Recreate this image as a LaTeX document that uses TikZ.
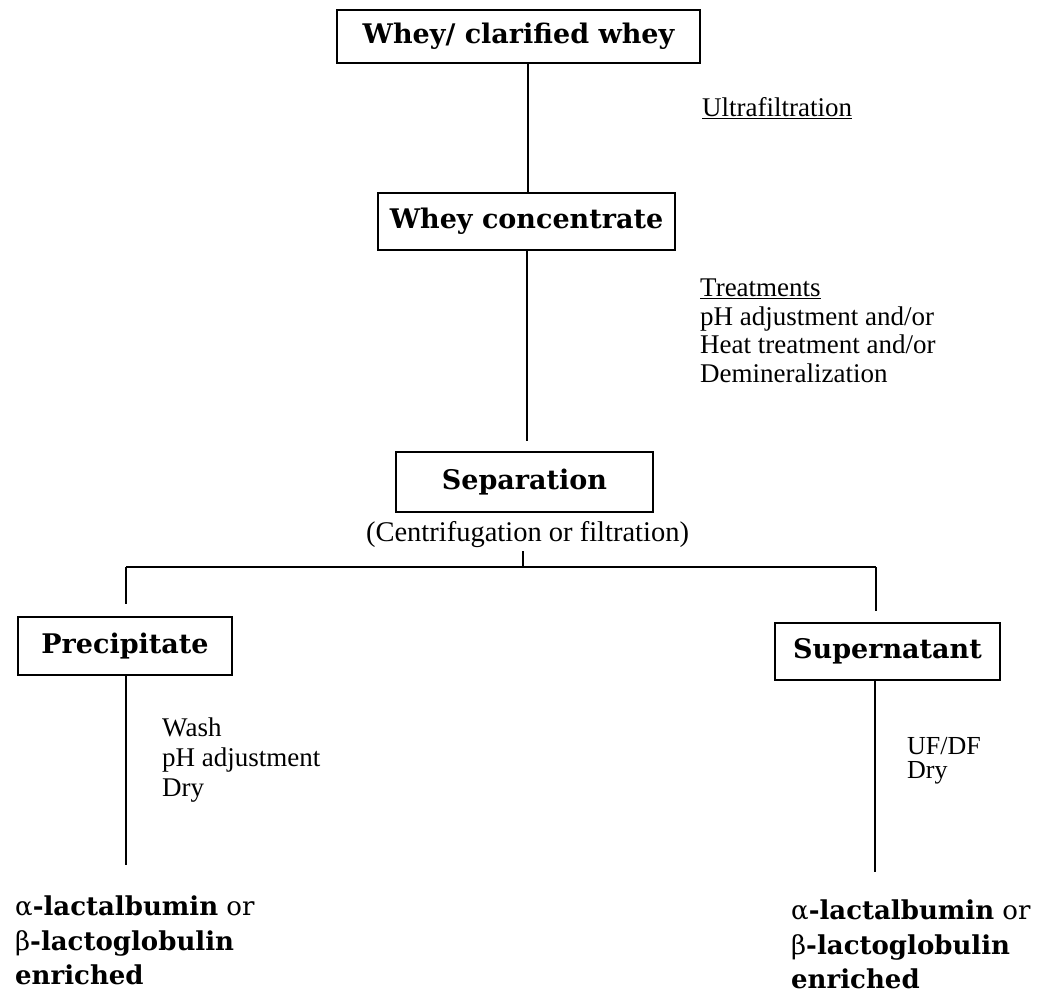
\documentclass[tikz,border=0pt]{standalone}
\usepackage{fontspec}
\setmainfont{Liberation Serif}
\newfontfamily\boxfont{DejaVu Serif}
\begin{document}
\begin{tikzpicture}[x=1pt,y=-1pt]
\tikzset{
  stepbox/.style={draw, line width=1.7pt, inner sep=0pt,
    font=\boxfont\bfseries\fontsize{27}{30}\selectfont},
  note/.style={inner sep=0pt, align=left, anchor=north west,
    font=\fontsize{27}{28.5}\selectfont},
  product/.style={inner sep=0pt, align=left, anchor=north west,
    font=\boxfont\fontsize{26}{34.5}\selectfont},
  link/.style={line width=1.7pt},
}
\useasboundingbox (0,0) rectangle (1040,999);

% process boxes
\node[stepbox, minimum width=363pt, minimum height=53pt] (whey) at (518.5,36.5) {Whey/ clarified whey};
\node[stepbox, minimum width=297pt, minimum height=57pt] (conc) at (526.5,221.5) {Whey concentrate};
\node[stepbox, minimum width=257pt, minimum height=60pt] (sep) at (524.5,482) {Separation};
\node[stepbox, minimum width=214pt, minimum height=58pt] (prec) at (125,646) {Precipitate};
\node[stepbox, minimum width=225pt, minimum height=57pt] (super) at (887.5,651.5) {Supernatant};

% process notes
\node[note] (uf) at (702,97) {\underline{Ultrafiltration}};
\node[note] (treat) at (700,279) {\underline{Treatments}\\pH adjustment and/or\\Heat treatment and/or\\Demineralization};
\node[inner sep=0pt, font=\fontsize{28.5}{30}\selectfont] (cf) at (527.5,535) {(Centrifugation or filtration)};
\node[note, font=\fontsize{27}{30}\selectfont] (wash) at (162,718) {Wash\\pH adjustment\\Dry};
\node[note, font=\fontsize{26}{24}\selectfont] (ufdf) at (907,737) {UF/DF\\Dry};

% products
\node[product] (lprod) at (15,896) {α\textbf{-lactalbumin} or\\β\textbf{-lactoglobulin}\\\textbf{enriched}};
\node[product] (rprod) at (791,900) {α\textbf{-lactalbumin} or\\β\textbf{-lactoglobulin}\\\textbf{enriched}};

% split points
\coordinate (split) at (523,567);
\coordinate (lft) at (126,567);
\coordinate (rgt) at (876,567);

% connectors
\draw[link] (whey.south -| 528,0) -- (conc.north -| 528,0);
\draw[link] (conc.south -| 527,0) -- ([yshift=10pt]sep.north -| 527,0);
\draw[link] ([yshift=-3pt]cf.south -| split) -- (split);
\draw[link] (lft) -- (rgt);
\draw[link] (lft) -- ([yshift=12pt]prec.north -| lft);
\draw[link] (rgt) -- ([yshift=11pt]super.north -| rgt);
\draw[link] (prec.south -| lft) -- ([yshift=31pt]lprod.north -| lft);
\draw[link] (super.south -| 875,0) -- ([yshift=28pt]rprod.north -| 875,0);
\end{tikzpicture}
\end{document}
